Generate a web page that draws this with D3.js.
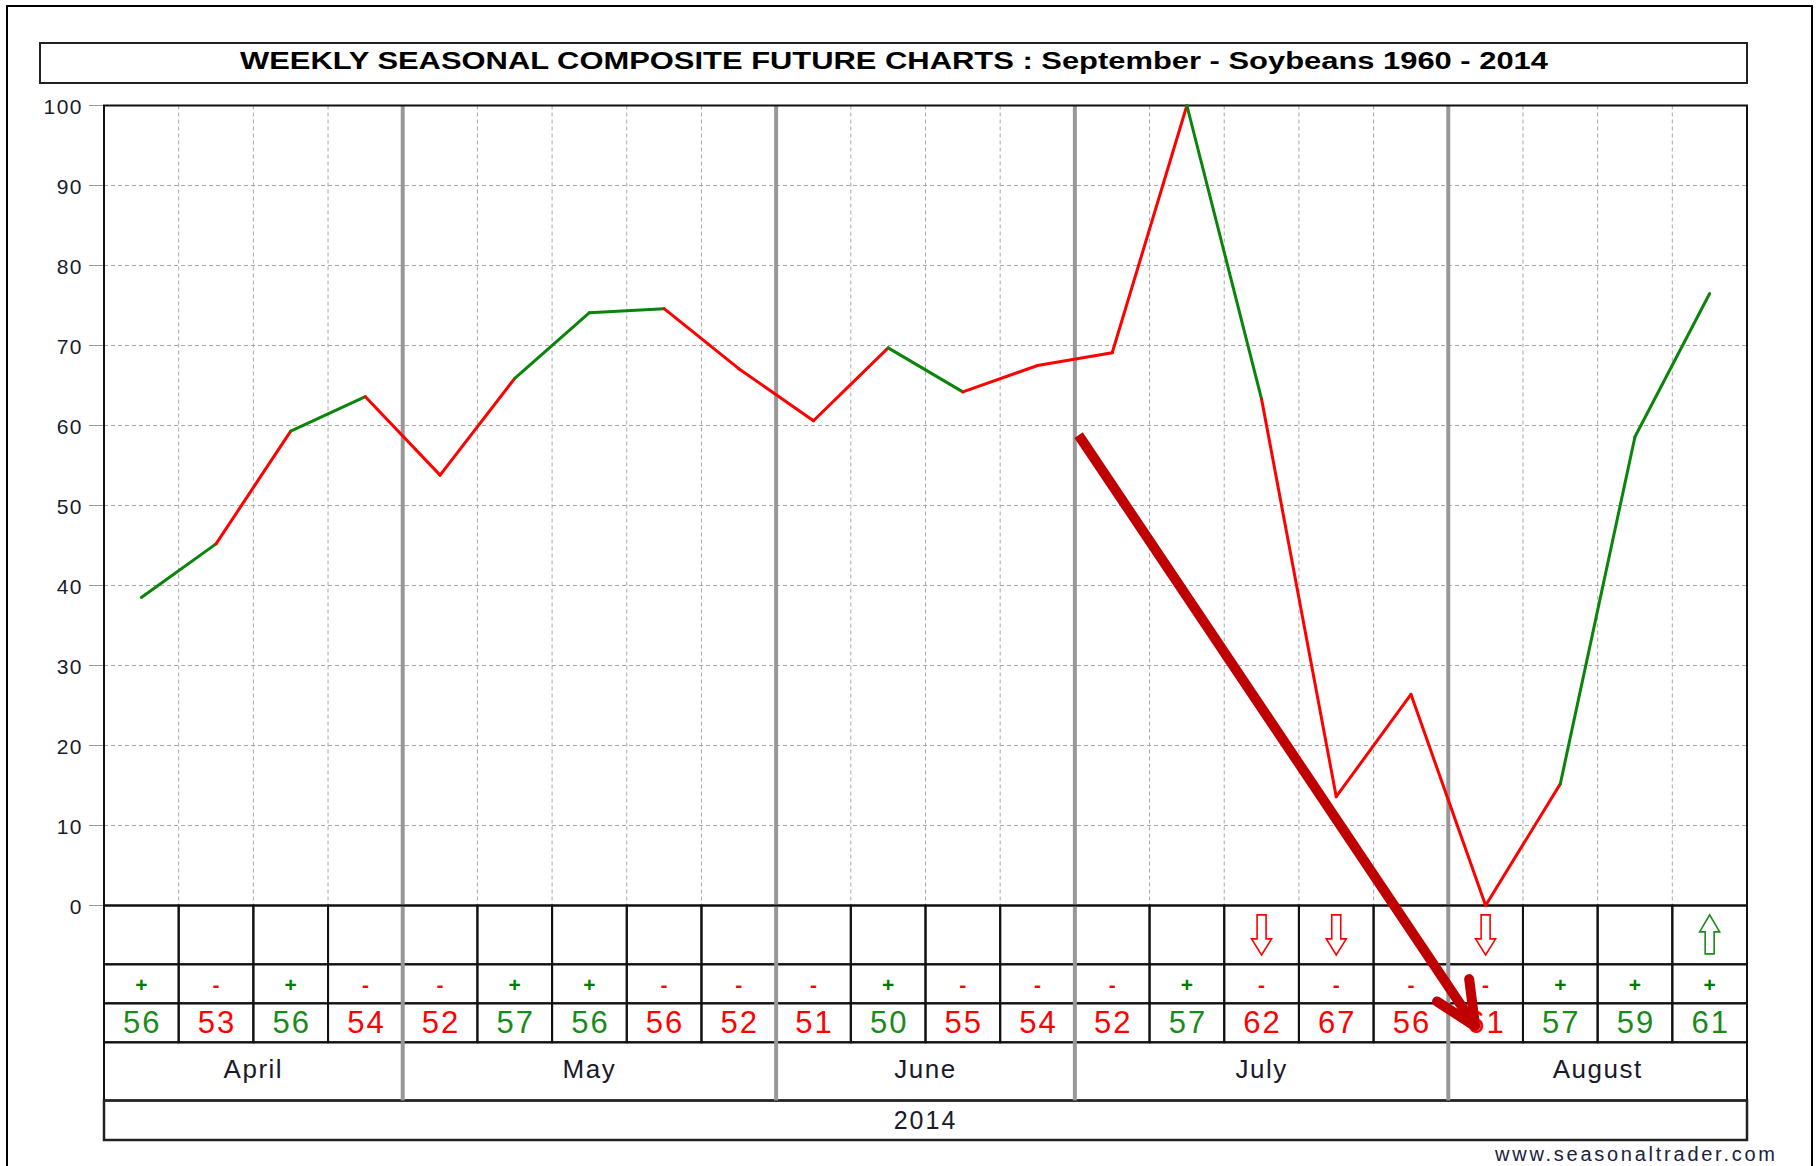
<!DOCTYPE html>
<html>
<head>
<meta charset="utf-8">
<script src="https://cdn.jsdelivr.net/npm/d3@7"></script>
<style>
  body { margin: 0; background: #fff; }
  svg { display: block; font-family: "Liberation Sans", Arial, sans-serif; }
</style>
</head>
<body>
<div id="chart"></div>
<script>
// weekly composite index, one point per week (Apr..Aug)
var composite = [38.5, 45.2, 59.3, 63.6, 53.8, 65.9, 74.1, 74.6, 67.1, 60.6, 69.7,
                 64.2, 67.5, 69.1, 100, 63.3, 13.6, 26.4, 0, 15.2, 58.6, 76.5];
var signs = ["+","-","+","-","-","+","+","-","-","-","+","-","-","-","+","-","-","-","-","+","+","+"];
var pctValues = [56, 53, 56, 54, 52, 57, 56, 56, 52, 51, 50, 55, 54, 52, 57, 62, 67, 56, 61, 57, 59, 61];
var signals = ["","","","","","","","","","","","","","","","down","down","","down","","","up"];
var months = ["April", "May", "June", "July", "August"];
var monthWeeks = [4, 5, 4, 5, 4];
var yearLabel = "2014";
var yTicks = [0, 10, 20, 30, 40, 50, 60, 70, 80, 90, 100];
var titleText = "WEEKLY SEASONAL COMPOSITE FUTURE CHARTS : September - Soybeans 1960 - 2014";
// hand drawn annotation arrow, in (week, value) units
var annoShaft = [[13.05, 58.8], [18.36, -15.1]];
var annoHead = [[18.28, -9.2], [18.36, -15.1], [17.85, -12.0]];

var width = 1818, height = 1166;
var plotLeft = 104, plotRight = 1747, plotTop = 105.5, plotZero = 905.5;
var rows = [905.5, 964.3, 1003.3, 1042.3, 1100.5, 1140];
var red = "#ff0000";

var svg = d3.select("#chart").append("svg")
    .attr("width", width)
    .attr("height", height);

var x = d3.scaleBand().domain(d3.range(composite.length)).range([plotLeft, plotRight]);
var xw = d3.scaleLinear().domain([0, composite.length]).range([plotLeft, plotRight]);
var y = d3.scaleLinear().domain([0, 100]).range([plotZero, plotTop]);
var cx = function(i) { return x(i) + x.bandwidth() / 2; };

// outer frame
svg.append("path")
    .attr("d", "M7," + (height + 5) + "V6H1812V" + (height + 5))
    .attr("fill", "none").attr("stroke", "#000").attr("stroke-width", 2);

// title box
svg.append("rect")
    .attr("x", 40).attr("y", 43).attr("width", plotRight - 40).attr("height", 40)
    .attr("fill", "#fff").attr("stroke", "#222").attr("stroke-width", 2);
svg.append("text")
    .attr("x", 240).attr("y", 69)
    .attr("textLength", 1308).attr("lengthAdjust", "spacingAndGlyphs")
    .attr("font-size", 23).attr("font-weight", "bold").attr("fill", "#000")
    .text(titleText);

// month boundaries
var bounds = [];
var acc = 0;
monthWeeks.forEach(function(n) { bounds.push(acc); acc += n; });
bounds.push(acc);
var sepIdx = bounds.slice(1, -1);

// grid
var grid = svg.append("g");
grid.selectAll(".hg")
    .data(yTicks.filter(function(t) { return t > 0 && t < 100; }))
    .enter().append("line")
    .attr("x1", plotLeft).attr("x2", plotRight)
    .attr("y1", function(d) { return y(d); }).attr("y2", function(d) { return y(d); })
    .attr("stroke", "#a8a8a8").attr("stroke-dasharray", "4,3");
grid.selectAll(".vg")
    .data(d3.range(1, composite.length).filter(function(i) { return sepIdx.indexOf(i) < 0; }))
    .enter().append("line")
    .attr("x1", function(d) { return xw(d); }).attr("x2", function(d) { return xw(d); })
    .attr("y1", plotTop).attr("y2", plotZero)
    .attr("stroke", "#a8a8a8").attr("stroke-dasharray", "4,3");

// y axis labels and ticks
var yax = svg.append("g");
yax.selectAll("line").data(yTicks).enter().append("line")
    .attr("x1", 89).attr("x2", plotLeft)
    .attr("y1", function(d) { return y(d); }).attr("y2", function(d) { return y(d); })
    .attr("stroke", "#999");
yax.selectAll("text").data(yTicks).enter().append("text")
    .attr("x", 83).attr("y", function(d) { return y(d) + 1; })
    .attr("text-anchor", "end").attr("dominant-baseline", "central")
    .attr("font-size", 21).attr("letter-spacing", 1.5).attr("fill", "#1a1a2a")
    .text(function(d) { return d; });

// table cells
var table = svg.append("g");
d3.range(3).forEach(function(r) {
  table.selectAll(".c" + r)
      .data(d3.range(composite.length))
      .enter().append("rect")
      .attr("x", function(d) { return x(d); })
      .attr("y", rows[r])
      .attr("width", x.bandwidth())
      .attr("height", rows[r + 1] - rows[r])
      .attr("fill", "none").attr("stroke", "#111").attr("stroke-width", 2);
});
table.selectAll(".mrow").data(months).enter().append("rect")
    .attr("x", function(d, i) { return xw(bounds[i]); })
    .attr("y", rows[3])
    .attr("width", function(d, i) { return xw(bounds[i + 1]) - xw(bounds[i]); })
    .attr("height", rows[4] - rows[3])
    .attr("fill", "none").attr("stroke", "#111").attr("stroke-width", 2);
table.append("rect")
    .attr("x", plotLeft).attr("y", rows[4]).attr("width", plotRight - plotLeft).attr("height", rows[5] - rows[4])
    .attr("fill", "none").attr("stroke", "#222").attr("stroke-width", 2.5);

// month separators (thick gray)
svg.selectAll(".sep").data(sepIdx).enter().append("line")
    .attr("x1", function(d) { return xw(d); }).attr("x2", function(d) { return xw(d); })
    .attr("y1", plotTop).attr("y2", rows[4])
    .attr("stroke", "#989898").attr("stroke-width", 4);

// plot border
svg.append("rect")
    .attr("x", plotLeft).attr("y", plotTop).attr("width", plotRight - plotLeft).attr("height", plotZero - plotTop)
    .attr("fill", "none").attr("stroke", "#111").attr("stroke-width", 2);

// signal arrows
var downShape = "M-4.5,-20H4.5V4H10L0,20L-10,4H-4.5Z";
var upShape = "M-4.5,19H4.5V-3H10L0,-20L-10,-3H-4.5Z";
var rowMid = (rows[0] + rows[1]) / 2;
svg.selectAll(".sig")
    .data(d3.range(composite.length).filter(function(i) { return signals[i] !== ""; }))
    .enter().append("path")
    .attr("transform", function(d) { return "translate(" + cx(d) + "," + rowMid + ")"; })
    .attr("d", function(d) { return signals[d] == "up" ? upShape : downShape; })
    .attr("fill", "#fff")
    .attr("stroke", function(d) { return signals[d] == "up" ? "#1a8a1a" : red; })
    .attr("stroke-width", 1.6);

// +/- row
svg.selectAll(".sg").data(signs).enter().append("text")
    .attr("x", function(d, i) { return cx(i); })
    .attr("y", (rows[1] + rows[2]) / 2 + 1)
    .attr("text-anchor", "middle").attr("dominant-baseline", "central")
    .attr("font-size", 21).attr("font-weight", "bold")
    .attr("fill", function(d) { return d == "+" ? "#007a00" : red; })
    .text(function(d) { return d; });

// percentage row
svg.selectAll(".pv").data(pctValues).enter().append("text")
    .attr("x", function(d, i) { return cx(i) + 1; })
    .attr("y", 1033)
    .attr("text-anchor", "middle")
    .attr("font-size", 31).attr("letter-spacing", 2)
    .attr("fill", function(d, i) { return signs[i] == "+" ? "#1a8a1a" : red; })
    .text(function(d) { return d; });

// month labels
svg.selectAll(".ml").data(months).enter().append("text")
    .attr("x", function(d, i) { return xw((bounds[i] + bounds[i + 1]) / 2); })
    .attr("y", 1078)
    .attr("text-anchor", "middle")
    .attr("font-size", 26).attr("letter-spacing", 1.5).attr("fill", "#1a1a2a")
    .text(function(d) { return d; });
svg.append("text")
    .attr("x", (plotLeft + plotRight) / 2).attr("y", 1129)
    .attr("text-anchor", "middle")
    .attr("font-size", 25).attr("letter-spacing", 2).attr("fill", "#1a1a2a")
    .text(yearLabel);

// composite line, each week's segment coloured by its sign
var line = d3.line()
    .x(function(d) { return cx(d); })
    .y(function(d) { return y(composite[d]); });
svg.selectAll(".seg")
    .data(d3.range(composite.length - 1))
    .enter().append("path")
    .attr("d", function(i) { return line([i, i + 1]); })
    .attr("fill", "none")
    .attr("stroke", function(i) { return signs[i] == "+" ? "#0b840b" : red; })
    .attr("stroke-width", 3)
    .attr("stroke-linecap", "round");

// annotation arrow
var aline = d3.line()
    .x(function(d) { return xw(d[0]); })
    .y(function(d) { return y(d[1]); });
svg.append("path").attr("d", aline(annoShaft))
    .attr("fill", "none").attr("stroke", "#c00000").attr("stroke-width", 10);
svg.append("path").attr("d", aline(annoHead))
    .attr("fill", "none").attr("stroke", "#c00000").attr("stroke-width", 10)
    .attr("stroke-linecap", "round").attr("stroke-linejoin", "round");

// watermark
svg.append("text")
    .attr("x", 1495).attr("y", 1161)
    .attr("textLength", 280).attr("lengthAdjust", "spacing")
    .attr("font-size", 20).attr("fill", "#202040")
    .text("www.seasonaltrader.com");
</script>
</body>
</html>
